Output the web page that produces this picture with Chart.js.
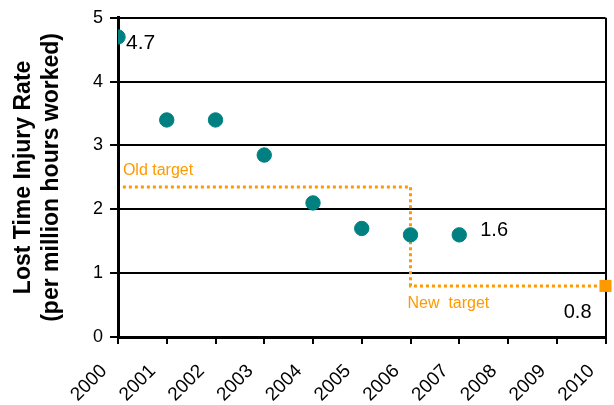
<!DOCTYPE html>
<html>
<head>
<meta charset="utf-8">
<script src="https://cdn.jsdelivr.net/npm/chart.js@4/dist/chart.umd.min.js"></script>
<style>
  html, body { margin: 0; padding: 0; background: #fff; }
  #wrap { width: 614px; height: 405px; }
</style>
</head>
<body>
<div id="wrap"><canvas id="c" width="614" height="405"></canvas></div>
<script>
// Lost time injury rate per year, with old and new targets
const years = [2000, 2001, 2002, 2003, 2004, 2005, 2006, 2007];
const rates = [4.7, 3.4, 3.4, 2.85, 2.1, 1.7, 1.6, 1.6];
const targetYears = [2000.1, 2006, 2006, 2010];
const targetRates = [2.35, 2.35, 0.8, 0.8];
const yTicks = [0, 1, 2, 3, 4, 5];
const xTicks = [2000, 2001, 2002, 2003, 2004, 2005, 2006, 2007, 2008, 2009, 2010];

const TEAL = '#008080';
const ORANGE = '#FF9900';
const FONT = 'Liberation Sans, Arial, sans-serif';

// Text annotations tied to data points: [dataset, index, text, dx, dy, align, color, size]
const notes = [
  [0, 0, '4.7', 8, 6, 'left', '#000', 21],
  [0, 7, '1.6', 21, -4, 'left', '#000', 20],
  [1, 3, '0.8', -14, 27, 'right', '#000', 20],
  [1, 0, 'Old target', 0, -16, 'left', ORANGE, 16],
  [1, 2, 'New  target', -3, 18, 'left', ORANGE, 16]
];

const notePlugin = {
  id: 'notes',
  afterDatasetsDraw(chart) {
    const ctx = chart.ctx;
    ctx.save();
    ctx.textBaseline = 'middle';
    for (const [ds, i, text, dx, dy, align, color, size] of notes) {
      const el = chart.getDatasetMeta(ds).data[i];
      ctx.font = size + 'px ' + FONT;
      ctx.fillStyle = color;
      ctx.textAlign = align;
      ctx.fillText(text, el.x + dx, el.y + dy);
    }
    ctx.restore();
  }
};

new Chart(document.getElementById('c'), {
  type: 'scatter',
  data: {
    datasets: [
      {
        label: 'Rate',
        data: years.map((y, i) => ({ x: y, y: rates[i] })),
        backgroundColor: TEAL,
        borderColor: TEAL,
        pointRadius: 7.2,
        pointHoverRadius: 7.2,
        showLine: false,
        order: 1
      },
      {
        label: 'Target',
        data: targetYears.map((y, i) => ({ x: y, y: targetRates[i] })),
        showLine: true,
        borderColor: ORANGE,
        borderWidth: 3,
        borderDash: [3, 3],
        backgroundColor: ORANGE,
        pointStyle: 'rect',
        pointRadius: [0, 0, 0, 8.5],
        pointBorderWidth: 0,
        tension: 0,
        clip: false,
        order: 2
      }
    ]
  },
  options: {
    responsive: false,
    animation: false,
    events: [],
    layout: { padding: { top: 17, right: 6, left: 0, bottom: 0 } },
    plugins: {
      legend: { display: false },
      tooltip: { enabled: false }
    },
    scales: {
      x: {
        type: 'linear',
        min: 2000,
        max: 2010,
        afterBuildTicks: s => { s.ticks = xTicks.map(v => ({ value: v })); },
        afterFit: s => { s.height = 68; s.paddingRight = 0; s.paddingLeft = 0; },
        border: { color: '#000', width: 3 },
        grid: {
          color: c => (c.index === xTicks.length - 1 ? '#000' : 'rgba(0,0,0,0)'),
          tickColor: '#000',
          lineWidth: 2,
          tickLength: 7
        },
        ticks: {
          minRotation: 45,
          maxRotation: 45,
          color: '#000',
          padding: 16,
          labelOffset: -14,
          font: { family: FONT, size: 19 },
          callback: v => String(v)
        }
      },
      y: {
        min: 0,
        max: 5,
        afterBuildTicks: s => { s.ticks = yTicks.map(v => ({ value: v })); },
        afterFit: s => { s.width = 118; },
        border: { color: '#000', width: 3 },
        grid: { color: '#000', lineWidth: 2, tickLength: 8 },
        ticks: {
          color: '#000',
          padding: 7,
          font: { family: FONT, size: 18 }
        },
        title: {
          display: true,
          text: ['Lost Time Injury Rate', '(per million hours worked)'],
          color: '#000',
          font: { family: FONT, size: 23, weight: 'bold' },
          padding: { top: 10, bottom: 0 }
        }
      }
    }
  },
  plugins: [notePlugin]
});
</script>
</body>
</html>
